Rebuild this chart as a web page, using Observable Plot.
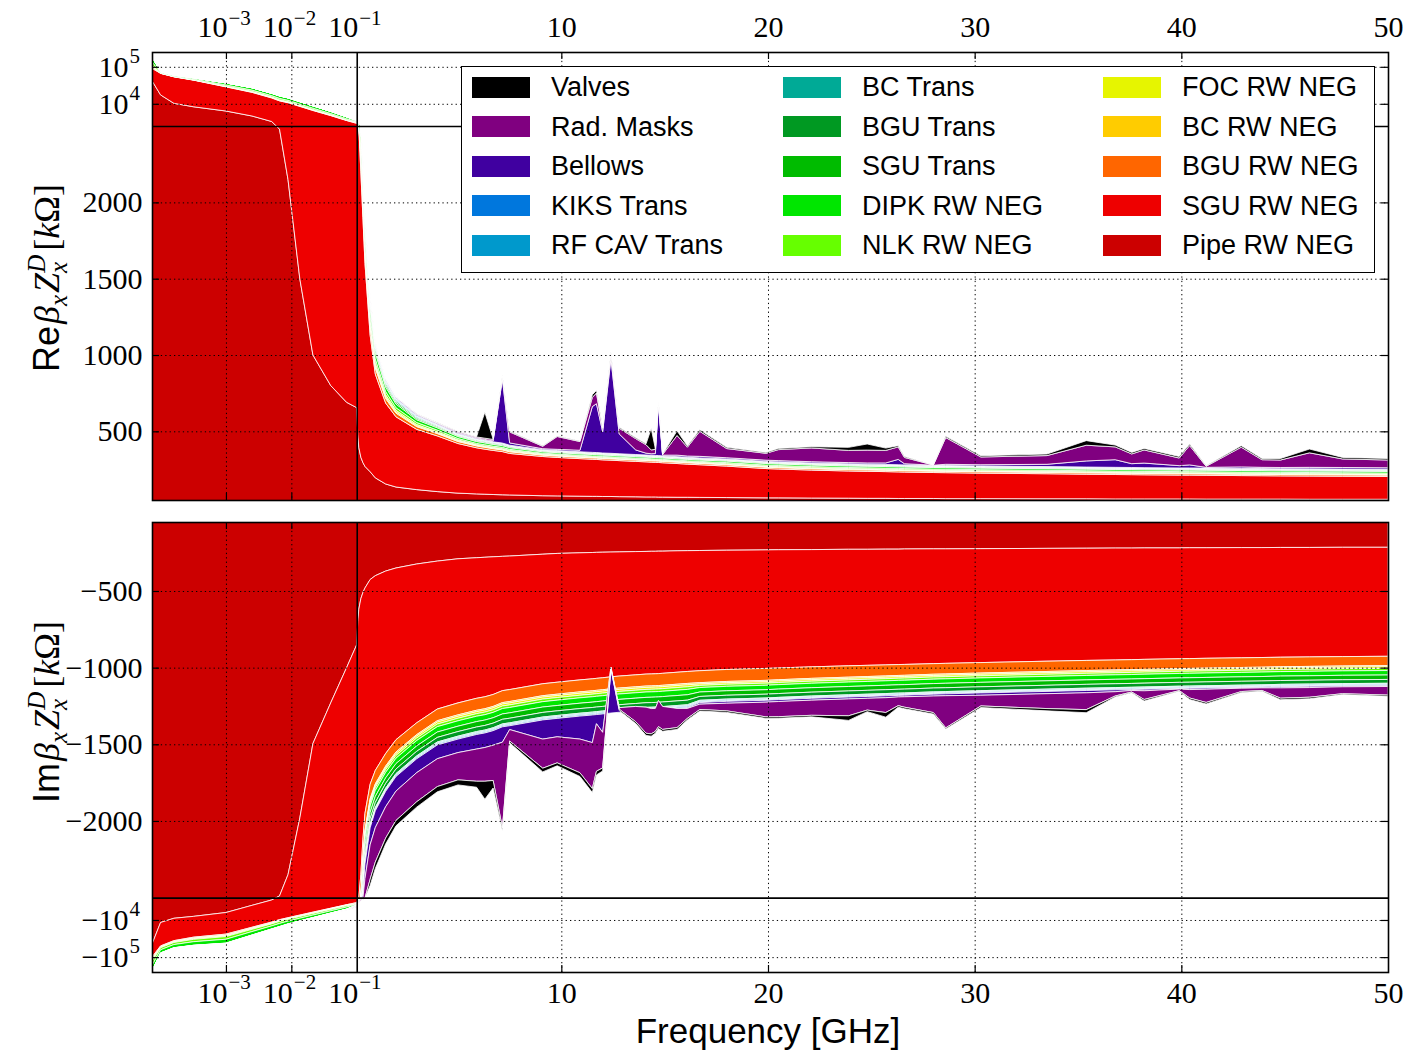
<!DOCTYPE html>
<html>
<head>
<meta charset="utf-8">
<script src="https://cdn.jsdelivr.net/npm/d3@7"></script>
<script src="https://cdn.jsdelivr.net/npm/@observablehq/plot@0.6"></script>
<style>
  html,body{margin:0;padding:0;background:#fff;}
  #wrap{position:relative;width:1405px;height:1053px;overflow:hidden;background:#fff;}
  #re,#im{position:absolute;left:0;}
  #re{top:0;} #im{top:511px;}
  #legend{position:absolute;left:461px;top:66px;width:914px;height:207px;box-sizing:border-box;border:1.6px solid #000;background:#fff;font-family:"Liberation Sans",Arial,sans-serif;font-size:27px;color:#000;}
  .sw{position:absolute;width:58px;height:21px;}
  .lab{position:absolute;height:40px;line-height:40px;white-space:nowrap;}
  #over{position:absolute;left:0;top:0;pointer-events:none;}
</style>
</head>
<body>
<div id="wrap"><div id="re"></div><div id="im"></div><div id="legend"></div></div>
<script>
// ---------------- data ----------------
const FREQ = [7.4e-5,1e-4,1.6e-4,3.2e-4,1e-3,2.5e-3,5e-3,6.6e-3,8.9e-3,0.0135,0.0214,0.04,0.07,
 0.1,0.15,0.2,0.3,0.4,0.5,0.75,1,1.5,2,
 3,4,5,5.9,6.3,6.7,7.15,7.5,9.1,9.8,
 10.9,11.5,11.7,12.0,12.4,12.8,13.6,14.1,14.35,14.55,
 14.7,14.9,15.6,16.1,16.7,18.0,19.9,20.5,22.1,23.9,
 24.8,25.7,26.3,26.6,28.0,28.6,30.3,33.5,35.4,36.8,
 37.6,38.2,39.9,40.4,41.2,42.9,43.9,44.8,46.2,47.8,
 50];

const SERIES = ["Pipe RW NEG","SGU RW NEG","BGU RW NEG","BC RW NEG","FOC RW NEG","NLK RW NEG","DIPK RW NEG",
 "SGU Trans","BGU Trans","BC Trans","RF CAV Trans","KIKS Trans","Bellows","Rad. Masks","Valves"];
const COLORS = ["#cc0000","#ee0000","#ff6600","#ffcc00","#e6f500","#66ff00","#00e600",
 "#00bb00","#009922","#00aa96","#0099cc","#0077dd","#4000a0","#800080","#000000"];

// Real part (kOhm), one value per FREQ entry
const RE_PIPE = [42000,17400,10300,8300,6380,4680,3320,2480,2149,1498,1000,800,690,
 655,480,395,330,295,270,235,195,155,135,
 118,105,95,90,88,86,84,83,78,77,
 75,74,74,73,73,72,71,70,70,70,
 69,69,68,68,67,66,64,64,63,62,
 61,61,60,60,60,59,59,58,58,57,
 57,57,57,57,56,56,56,56,55,55,
 55];
const RE_SGU = [49000,49100,43400,35300,22320,15720,11080,9520,8551,7002,5600,4000,2840,
 2305,2220,2105,1870,1605,1330,895,680,530,460,
 395,365,325,302,295,289,283,272,257,252,
 246,243,242,240,238,236,232,230,228,227,
 227,225,221,217,214,206,192,189,183,178,
 177,175,174,173,170,170,167,164,161,160,
 159,158,156,156,156,154,153,152,152,151,
 149];
const RE_BGURW = [8000,600,504,560,664,560,400,360,312,240,184,120,76,
 138,120,106,90,76,64,50,40,30,24,
 18,15,13,12,12,11,11,11,9,9,
 9,9,9,9,9,9,9,9,9,9,
 9,9,9,9,9,9,9,9,9,9,
 9,9,9,9,9,9,9,9,9,9,
 9,9,9,9,9,9,9,9,9,9,
 9];
const RE_BCRW = [4000,300,252,280,332,280,200,180,156,120,92,60,38,
 48,42,37,32,27,22,18,14,11,8,
 6,5,5,4,4,4,4,4,3,3,
 3,3,3,3,3,3,3,3,3,3,
 3,3,3,3,3,3,3,3,3,3,
 3,3,3,3,3,3,3,3,3,3,
 3,3,3,3,3,3,3,3,3,3,
 3];
const RE_FOC = [8000,600,504,560,664,560,400,360,312,240,184,120,76,
 62,54,48,41,34,29,23,18,14,11,
 8,7,6,5,5,5,5,5,4,4,
 4,4,4,4,4,4,4,4,4,4,
 4,4,4,4,4,4,4,4,4,4,
 4,4,4,4,4,4,4,4,4,4,
 4,4,4,4,4,4,4,4,4,4,
 4];
const RE_NLK = [25000,1875,1575,1750,2075,1750,1250,1125,975,750,575,375,238,
 97,84,74,63,53,45,35,28,21,17,
 13,11,9,8,8,8,8,7,6,6,
 6,6,6,6,6,6,6,6,6,6,
 6,6,6,6,6,7,7,7,7,7,
 7,7,7,7,7,7,7,7,7,7,
 7,7,7,7,7,7,7,7,7,7,
 7];
const RE_DIPK = [50000,3750,3150,3500,4150,3500,2500,2250,1950,1500,1150,750,475,
 138,120,106,90,76,64,50,40,30,24,
 18,15,13,12,12,11,11,11,9,9,
 9,9,9,9,9,9,9,9,9,9,
 9,9,9,9,9,10,10,10,10,10,
 10,10,10,10,10,10,10,10,10,10,
 10,10,10,10,10,10,10,10,10,10,
 10];
const RE_SGUTR = [1000,75,63,70,83,70,50,45,39,30,23,15,10,
 62,54,48,41,34,29,23,18,14,11,
 8,7,6,5,5,5,5,5,4,4,
 4,4,4,4,4,4,4,4,4,4,
 4,4,4,4,4,4,4,4,4,4,
 4,4,4,4,4,4,4,4,4,4,
 4,4,4,4,4,4,4,4,4,4,
 4];
const RE_BGUTR = [1000,75,63,70,83,70,50,45,39,30,23,15,10,
 55,48,42,36,30,26,20,16,12,10,
 7,6,5,5,5,5,5,4,4,4,
 4,4,4,4,4,4,4,4,4,4,
 4,4,4,4,4,4,4,4,4,4,
 4,4,4,4,4,4,4,4,4,4,
 4,4,4,4,4,4,4,4,4,4,
 4];
const RE_BCTR = [1000,75,63,70,83,70,50,45,39,30,23,15,10,
 35,30,27,23,19,16,13,10,8,6,
 5,4,3,3,3,3,3,3,2,2,
 2,2,2,2,2,2,2,2,2,2,
 2,2,2,2,2,2,2,2,2,2,
 2,2,2,2,2,2,2,2,2,2,
 2,2,2,2,2,2,2,2,2,2,
 2];
const RE_RFCAV = [1000,75,63,70,83,70,50,45,39,30,23,15,10,
 28,24,21,18,15,13,10,8,6,5,
 4,3,3,3,2,2,2,2,2,2,
 2,2,2,2,2,2,2,2,2,2,
 2,2,2,2,2,2,2,2,2,2,
 2,2,2,2,2,2,2,2,2,2,
 2,2,2,2,2,2,2,2,2,2,
 2];
const RE_KIKS = [1000,75,63,70,83,70,50,45,39,30,23,15,10,
 28,24,21,18,15,13,10,8,6,5,
 4,3,3,3,2,2,2,2,2,2,
 2,2,2,2,2,2,2,2,2,2,
 2,2,2,2,2,2,2,2,2,2,
 2,2,2,2,2,2,2,2,2,2,
 2,2,2,2,2,2,2,2,2,2,
 2];
const RE_BELLOWS = [0,0,0,0,0,0,0,0,0,0,0,0,0,
 6,6,6,6,6,6,6,6,6,6,
 6,6,6,5,6,6,420,15,6,8,
 10,300,320,140,620,130,30,12,10,12,
 340,5,10,8,10,8,8,8,8,8,
 8,10,35,8,1,8,8,15,40,50,
 25,30,15,20,5,10,8,8,10,10,
 10];
const RE_RADM = [0,0,0,0,0,0,0,0,0,0,0,0,0,
 4,4,4,4,4,4,4,4,4,4,
 4,4,7,6,8,10,20,72,16,84,
 57,60,70,22,36,37,74,55,25,28,
 28,4,129,58,164,60,45,72,90,80,
 84,82,82,41,1,175,51,57,103,84,
 64,86,50,127,7,129,50,49,95,56,
 51];
const RE_VALVES = [0,0,0,0,0,0,0,0,0,0,0,0,0,
 1,1,1,1,1,1,1,1,1,1,
 1,1,2,2,170,3,4,4,4,4,
 4,18,17,6,8,6,6,6,140,4,
 4,2,30,8,10,8,6,8,8,20,
 40,15,8,6,1,8,8,10,30,12,
 10,10,10,10,3,10,8,10,25,10,
 10];

// Imaginary part (magnitudes in kOhm, stacked downward)
const IM_PIPE = [45000,11700,9000,8000,6300,4040,2900,2489,2350,1980,1495,1230,1000,
 850,700,620,550,510,480,425,400,370,350,
 324,305,290,283,280,277,274,272,260,255,
 251,249,248,247,246,245,243,242,241,241,
 240,240,238,237,236,234,232,231,230,228,
 228,227,227,226,225,225,224,222,221,220,
 220,219,219,218,218,217,217,216,216,215,
 215];
const IM_SGU = [55000,38300,27000,21000,17700,11660,8500,7311,6350,5400,4655,3600,2880,
 2550,2300,2080,1800,1610,1470,1335,1270,1190,1120,
 1036,965,940,917,910,898,876,871,845,840,
 829,824,822,819,814,810,804,800,800,799,
 799,797,792,788,784,778,773,771,765,760,
 757,755,753,753,749,747,743,736,732,730,
 728,727,723,723,721,719,717,716,714,713,
 711];
const IM_BGURW = [10500,2100,1540,1470,1400,756,469,406,315,245,193,131,95,
 250,200,170,140,120,110,95,88,82,80,
 77,76,78,78,78,78,78,78,78,78,
 78,78,78,78,78,78,78,78,78,78,
 78,78,78,78,78,78,78,77,75,74,
 73,72,71,71,69,69,68,67,66,65,
 65,65,64,64,64,63,63,62,62,61,
 61];
const IM_BCRW = [7500,1500,1100,1050,1000,540,335,290,225,175,138,94,68,
 30,24,20,17,14,13,11,10,10,10,
 9,9,9,9,9,9,9,9,9,9,
 9,9,9,9,9,9,9,9,9,9,
 9,9,9,9,8,8,8,8,8,8,
 8,8,8,8,8,8,8,8,8,8,
 8,8,8,8,8,8,8,8,8,8,
 8];
const IM_FOC = [12000,2400,1760,1680,1600,864,536,464,360,280,220,150,108,
 40,32,27,22,19,18,15,14,13,13,
 13,13,13,13,13,13,13,13,13,13,
 13,13,13,13,13,13,13,13,13,13,
 13,13,13,13,10,10,10,10,10,10,
 10,10,10,10,10,10,10,10,10,10,
 10,10,10,10,10,10,10,10,10,10,
 10];
const IM_NLK = [37500,7500,5500,5250,5000,2700,1675,1450,1125,875,688,468,338,
 55,44,37,31,26,24,21,19,18,18,
 17,17,17,17,17,17,17,17,17,17,
 17,17,17,17,17,17,17,17,17,17,
 17,17,17,17,14,14,14,14,14,14,
 14,14,14,14,14,14,14,14,14,14,
 14,14,14,14,14,14,14,14,14,14,
 14];
const IM_DIPK = [67500,13500,9900,9450,9000,4860,3015,2610,2025,1575,1238,842,608,
 110,88,75,62,53,48,42,39,36,35,
 35,35,35,35,35,35,35,35,35,35,
 35,35,35,35,35,35,35,35,35,35,
 35,35,35,35,29,29,29,29,29,29,
 29,29,29,29,29,29,29,29,29,29,
 29,29,29,29,29,29,29,29,29,29,
 29];
const IM_SGUTR = [3000,600,440,420,400,216,134,116,90,70,55,37,27,
 110,88,75,62,53,48,42,39,36,35,
 35,35,35,35,35,35,35,35,35,35,
 35,35,35,35,35,35,35,35,35,35,
 35,35,35,35,29,29,29,29,29,29,
 29,29,29,29,29,29,29,29,29,29,
 29,29,29,29,29,29,29,29,29,29,
 29];
const IM_BGUTR = [3000,600,440,420,400,216,134,116,90,70,55,37,27,
 95,76,65,53,46,42,36,33,31,30,
 30,30,30,30,30,30,30,30,30,30,
 30,30,30,30,30,30,30,30,30,30,
 30,30,30,30,25,25,25,25,25,25,
 25,25,25,25,25,25,25,25,25,25,
 25,25,25,25,25,25,25,25,25,25,
 25];
const IM_BCTR = [3000,600,440,420,400,216,134,116,90,70,55,37,27,
 20,16,14,11,10,9,8,7,7,6,
 6,6,6,6,6,6,6,6,6,6,
 6,6,6,6,6,6,6,6,6,6,
 6,6,6,6,5,5,5,5,5,5,
 5,5,5,5,5,5,5,5,5,5,
 5,5,5,5,5,5,5,5,5,5,
 5];
const IM_RFCAV = [3000,600,440,420,400,216,134,116,90,70,55,37,27,
 20,16,14,11,10,9,8,7,7,6,
 6,6,6,6,6,6,6,6,6,6,
 6,6,6,6,6,6,6,6,6,6,
 6,6,6,6,5,5,5,5,5,5,
 5,5,5,5,5,5,5,5,5,5,
 5,5,5,5,5,5,5,5,5,5,
 5];
const IM_KIKS = [3000,600,440,420,400,216,134,116,90,70,55,37,27,
 20,16,13,11,9,9,7,7,7,7,
 7,7,7,7,7,7,7,7,7,7,
 7,7,7,7,7,7,7,7,7,7,
 7,7,7,7,5,5,5,5,5,5,
 5,5,5,5,5,5,5,5,5,5,
 5,5,5,5,5,5,5,5,5,5,
 5];
const IM_BELLOWS = [0,0,0,0,0,0,0,0,0,0,0,30,40,
 90,90,85,85,95,95,110,110,100,95,
 90,90,88,95,95,95,100,25,125,120,
 150,180,60,120,-300,-30,-30,-20,-10,-10,
 -60,-20,0,5,10,12,12,12,12,12,
 12,12,10,10,12,12,15,15,15,12,
 6,10,4,8,8,5,5,8,8,6,
 6];
const IM_RADM = [0,0,0,0,0,0,0,0,0,0,0,60,80,
 180,180,175,165,190,190,225,225,205,192,
 190,182,178,210,220,230,560,75,190,170,
 220,300,310,232,10,10,100,170,165,150,
 170,150,125,65,35,50,96,99,99,110,
 77,97,57,68,108,210,70,97,110,28,
 10,57,10,55,86,22,17,67,63,45,
 56];
const IM_VALVES = [0,0,0,0,0,0,0,0,0,0,0,8,10,
 30,30,30,30,35,35,40,42,38,35,
 35,34,33,39,117,49,19,11,24,19,
 24,26,24,20,4,8,12,14,15,12,
 12,12,12,10,10,10,10,10,10,30,
 10,30,10,10,10,8,10,15,20,6,
 4,10,4,10,10,6,5,10,10,6,
 8];

const RE_VALUES = [RE_PIPE,RE_SGU,RE_BGURW,RE_BCRW,RE_FOC,RE_NLK,RE_DIPK,RE_SGUTR,RE_BGUTR,RE_BCTR,RE_RFCAV,RE_KIKS,RE_BELLOWS,RE_RADM,RE_VALVES];
const IM_VALUES = [IM_PIPE,IM_SGU,IM_BGURW,IM_BCRW,IM_FOC,IM_NLK,IM_DIPK,IM_SGUTR,IM_BGUTR,IM_BCTR,IM_RFCAV,IM_KIKS,IM_BELLOWS,IM_RADM,IM_VALVES];

// tick values
const X_GRID = [1e-3, 1e-2, 10, 20, 30, 40];
const X_LOG_LABELS = [1e-3, 1e-2, 1e-1];
const X_LIN_LABELS = [10, 20, 30, 40, 50];
const RE_Y_LIN = [500, 1000, 1500, 2000];
const RE_Y_LOG = [1e4, 1e5];
const IM_Y_LIN = [-500, -1000, -1500, -2000];
const IM_Y_LOG = [-1e4, -1e5];

// ---------------- broken-axis scale transforms ----------------
const F_BREAK = 0.1, DECADE_X = 3.164;       // log section left of 0.1 GHz
const V_BREAK = 2500, DECADE_Y = 242.4;      // log section beyond |2500| kOhm
const Y_MAX = Math.pow(10, 5.4);
const tx = f => f >= F_BREAK ? f : F_BREAK + (Math.log10(f) - Math.log10(F_BREAK)) * DECADE_X;
const tyRe = v => v <= V_BREAK ? v : V_BREAK + (Math.log10(v) - Math.log10(V_BREAK)) * DECADE_Y;
const tyIm = v => v >= -V_BREAK ? v : -V_BREAK - (Math.log10(-v) - Math.log10(V_BREAK)) * DECADE_Y;

[...RE_VALUES, ...IM_VALUES].forEach((a, i) => { if (a.length !== FREQ.length) console.warn("length mismatch", i, a.length); });

function stackRows(values, sign) {
  const rows = [];
  const base = FREQ.map(() => 0);
  values.forEach((vals, s) => {
    FREQ.forEach((f, i) => {
      const lo = base[i], hi = lo + vals[i];
      rows.push({series: SERIES[s], f, y1: sign * lo, y2: sign * hi});
      base[i] = hi;
    });
  });
  return rows;
}

const W = 1405, ML = 152, MR = 17;
const SERIF = "Liberation Serif, Times New Roman, serif";

function panel(el, o) {
  const plotW = W - ML - MR, plotH = o.height - o.mt - o.mb;
  const dotted = {stroke: "#000", strokeWidth: 1, strokeDasharray: "1.3,3.1"};
  const tk = {stroke: "#000", strokeWidth: 1.2};
  const gridY = o.yLin.concat(o.yLog);
  const lab = {fontFamily: SERIF, fontSize: 30, fill: "#000"};
  const exp = {fontFamily: SERIF, fontSize: 21, fill: "#000"};
  const ax = o.top ? {frameAnchor: "top", lineAnchor: "bottom"} : {frameAnchor: "bottom", lineAnchor: "top"};
  const dyBase = o.top ? -16 : 9, dyExp = o.top ? -28 : 2;
  const marks = [
    Plot.areaY(stackRows(o.values, o.sign), {x: "f", y1: "y1", y2: "y2", z: "series", fill: "series",
      stroke: "#fff", strokeWidth: 0.8, strokeLinejoin: "round", curve: "linear", clip: true}),
    Plot.ruleX(X_GRID, {x: d => d, ...dotted}),
    Plot.ruleY(gridY, {y: d => d, ...dotted}),
    Plot.ruleX([F_BREAK], {x: d => d, stroke: "#000", strokeWidth: 1.6}),
    Plot.ruleY([o.sign * V_BREAK], {y: d => d, stroke: "#000", strokeWidth: 1.6}),
    Plot.frame({stroke: "#000", strokeWidth: 1.6}),
    Plot.ruleX(X_GRID, {x: d => d, insetBottom: plotH - 7, ...tk}),
    Plot.ruleX(X_GRID, {x: d => d, insetTop: plotH - 7, ...tk}),
    Plot.ruleY(gridY, {y: d => d, insetRight: plotW - 7, ...tk}),
    Plot.ruleY(gridY, {y: d => d, insetLeft: plotW - 7, ...tk}),
    Plot.text(o.yLin, {y: d => d, frameAnchor: "left", dx: -10, textAnchor: "end", text: o.fmtLin, ...lab}),
    Plot.text(o.yLog, {y: d => d, frameAnchor: "left", dx: -24, textAnchor: "end", text: o.fmtLogBase, ...lab}),
    Plot.text(o.yLog, {y: d => d, frameAnchor: "left", dx: -23, dy: -11, textAnchor: "start",
      text: d => String(Math.round(Math.log10(Math.abs(d)))), ...exp}),
    Plot.text(X_LIN_LABELS, {x: d => d, ...ax, dy: dyBase, text: d => String(d), ...lab}),
    Plot.text(X_LOG_LABELS, {x: d => d, ...ax, dy: dyBase, dx: 1, textAnchor: "end", text: () => "10", ...lab}),
    Plot.text(X_LOG_LABELS, {x: d => d, ...ax, dy: dyExp, dx: 2, textAnchor: "start",
      text: d => "\u2212" + Math.abs(Math.round(Math.log10(d))), ...exp})
  ];
  const svg = Plot.plot({
    width: W, height: o.height,
    marginLeft: ML, marginRight: MR, marginTop: o.mt, marginBottom: o.mb,
    x: {type: "linear", transform: tx, domain: [tx(FREQ[0]), tx(50)], axis: null},
    y: {type: "linear", transform: o.ty, domain: o.yDomain, axis: null},
    color: {domain: SERIES, range: COLORS},
    style: {background: "#fff", overflow: "visible"},
    marks
  });
  document.getElementById(el).appendChild(svg);
}

panel("re", {values: RE_VALUES, sign: 1, ty: tyRe, yDomain: [50, tyRe(Y_MAX)], height: 511, mt: 52, mb: 11,
  yLin: RE_Y_LIN, yLog: RE_Y_LOG, fmtLin: d => String(d), fmtLogBase: () => "10", top: true});
panel("im", {values: IM_VALUES, sign: -1, ty: tyIm, yDomain: [tyIm(-Y_MAX), -50], height: 542, mt: 11, mb: 81,
  yLin: IM_Y_LIN, yLog: IM_Y_LOG, fmtLin: d => "\u2212" + Math.abs(d), fmtLogBase: () => "\u221210", top: false});

// ---------------- legend ----------------
const LEGEND_ORDER = SERIES.slice().reverse();
const legend = d3.select("#legend");
LEGEND_ORDER.forEach((name, k) => {
  const col = Math.floor(k / 5), row = k % 5;
  const left = [10, 321, 641][col];
  const cy = 20 + row * 39.6;
  legend.append("div").attr("class", "sw").style("left", left + "px").style("top", (cy - 10.5) + "px")
    .style("background", COLORS[SERIES.indexOf(name)]);
  legend.append("div").attr("class", "lab").style("left", (left + 79) + "px").style("top", (cy - 20) + "px").text(name);
});

// ---------------- axis titles ----------------
const over = d3.select("#wrap").append("svg").attr("id", "over").attr("width", 1405).attr("height", 1053);
function yTitle(prefix, cy) {
  const t = over.append("text").attr("transform", `translate(59,${cy}) rotate(-90)`)
    .attr("text-anchor", "middle").attr("font-size", 36).attr("fill", "#000");
  const sp = (txt, o = {}) => {
    const s = t.append("tspan").text(txt)
      .attr("font-family", o.sans ? "Liberation Sans, Arial, sans-serif" : SERIF);
    if (o.it) s.attr("font-style", "italic");
    if (o.fs) s.attr("font-size", o.fs);
    if (o.dx) s.attr("dx", o.dx);
    if (o.dy) s.attr("dy", o.dy);
    return s;
  };
  sp(prefix, {sans: true});
  sp("\u03b2", {it: true, dx: 2});
  sp("x", {it: true, fs: 25, dy: 8});
  sp("Z", {it: true, dy: -8, dx: 2});
  sp("x", {it: true, fs: 25, dy: 8});
  sp("D", {it: true, fs: 25, dx: -11, dy: -22});
  sp("[", {dy: 14, dx: 4});
  sp("k", {it: true});
  sp("\u03a9", {});
  sp("]", {});
}
yTitle("Re", 278);
yTitle("Im", 712);
over.append("text").attr("x", 768).attr("y", 1043).attr("text-anchor", "middle")
  .attr("font-family", "Liberation Sans, Arial, sans-serif").attr("font-size", 35).attr("fill", "#000")
  .text("Frequency [GHz]");
</script>
</body>
</html>
